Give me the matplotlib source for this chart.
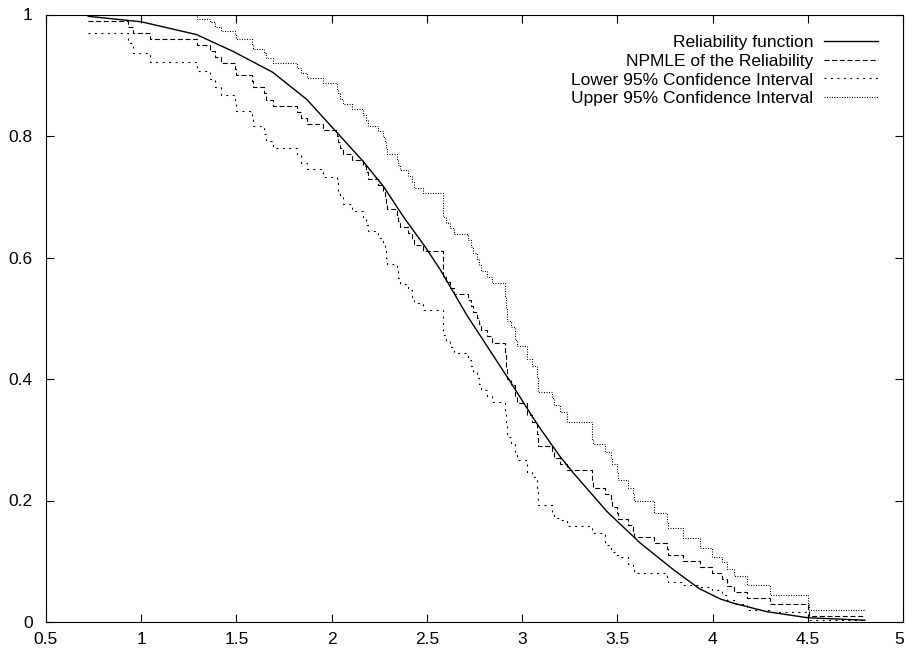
import matplotlib
matplotlib.use("Agg")
import matplotlib.pyplot as plt
import matplotlib.transforms as mtransforms
from matplotlib.ticker import FuncFormatter

# step start times (failure times) shared by the NPMLE and its confidence bounds
t = [0.722, 0.932, 0.955, 1.046, 1.291, 1.361, 1.39, 1.42, 1.493, 1.50,
     1.58, 1.585, 1.645, 1.655, 1.694, 1.816, 1.84, 1.87, 1.956, 2.027,
     2.035, 2.045, 2.06, 2.105, 2.167, 2.18, 2.19, 2.245, 2.27, 2.28,
     2.285, 2.289, 2.342, 2.35, 2.36, 2.403, 2.42, 2.43, 2.48, 2.587,
     2.60, 2.62, 2.64, 2.718, 2.73, 2.74, 2.765, 2.775, 2.785, 2.815,
     2.84, 2.91, 2.915, 2.92, 2.94, 2.963, 2.975, 3.024, 3.05, 3.077,
     3.085, 3.156, 3.17, 3.20, 3.235, 3.366, 3.37, 3.436, 3.465, 3.471,
     3.50, 3.506, 3.558, 3.58, 3.585, 3.69, 3.76, 3.768, 3.847, 3.934,
     3.996, 4.049, 4.075, 4.11, 4.18, 4.30, 4.50, 4.504, 4.80]

npmle = [0.99, 0.98, 0.97, 0.96, 0.95, 0.94, 0.93, 0.92, 0.91, 0.90,
         0.89, 0.88, 0.87, 0.86, 0.85, 0.84, 0.83, 0.82, 0.81, 0.80,
         0.79, 0.78, 0.77, 0.76, 0.75, 0.74, 0.73, 0.72, 0.71, 0.70,
         0.69, 0.68, 0.67, 0.66, 0.65, 0.64, 0.63, 0.62, 0.61, 0.57,
         0.56, 0.55, 0.54, 0.53, 0.52, 0.51, 0.50, 0.49, 0.48, 0.47,
         0.46, 0.44, 0.42, 0.40, 0.39, 0.37, 0.36, 0.34, 0.33, 0.31,
         0.29, 0.28, 0.27, 0.26, 0.25, 0.23, 0.22, 0.21, 0.20, 0.19,
         0.18, 0.17, 0.16, 0.15, 0.14, 0.13, 0.12, 0.11, 0.10, 0.09,
         0.08, 0.07, 0.06, 0.05, 0.04, 0.03, 0.02, 0.01, 0.01]

lower = [0.970, 0.953, 0.937, 0.922, 0.907, 0.894, 0.880, 0.867, 0.854, 0.841,
         0.829, 0.816, 0.804, 0.792, 0.780, 0.768, 0.756, 0.745, 0.733, 0.722,
         0.710, 0.699, 0.688, 0.676, 0.665, 0.654, 0.643, 0.632, 0.621, 0.610,
         0.599, 0.589, 0.578, 0.567, 0.557, 0.546, 0.535, 0.525, 0.514, 0.473,
         0.463, 0.453, 0.442, 0.432, 0.422, 0.412, 0.402, 0.392, 0.382, 0.372,
         0.362, 0.343, 0.323, 0.304, 0.294, 0.275, 0.266, 0.247, 0.238, 0.219,
         0.193, 0.179, 0.172, 0.168, 0.158, 0.150, 0.146, 0.127, 0.120, 0.115,
         0.110, 0.107, 0.095, 0.085, 0.080, 0.080, 0.070, 0.066, 0.061, 0.058,
         0.053, 0.044, 0.036, 0.030, 0.020, 0.017, 0.010, 0.003, 0.003]

upper = [1.0, 1.0, 1.0, 1.0, 0.993, 0.987, 0.980, 0.973, 0.966, 0.959,
         0.951, 0.944, 0.936, 0.928, 0.920, 0.912, 0.904, 0.895, 0.887, 0.878,
         0.870, 0.861, 0.853, 0.844, 0.835, 0.826, 0.817, 0.808, 0.799, 0.790,
         0.781, 0.771, 0.762, 0.753, 0.744, 0.734, 0.725, 0.715, 0.706, 0.667,
         0.657, 0.648, 0.638, 0.628, 0.618, 0.608, 0.598, 0.588, 0.578, 0.568,
         0.558, 0.537, 0.517, 0.496, 0.486, 0.465, 0.454, 0.433, 0.422, 0.401,
         0.379, 0.368, 0.357, 0.346, 0.330, 0.300, 0.293, 0.280, 0.270, 0.260,
         0.245, 0.234, 0.220, 0.210, 0.200, 0.179, 0.165, 0.154, 0.138, 0.121,
         0.107, 0.098, 0.088, 0.075, 0.061, 0.044, 0.030, 0.019, 0.019]

# reliability function
rel_x = [0.722, 0.784, 1.0, 1.29, 1.484, 1.69, 1.87, 2.027, 2.166, 2.272,
         2.377, 2.49, 2.57, 2.71, 2.937, 3.06, 3.094, 3.20, 3.27, 3.445,
         3.62, 3.795, 3.93, 4.04, 4.11, 4.285, 4.50, 4.80]
rel_y = [0.997, 0.995, 0.988, 0.967, 0.939, 0.905, 0.86, 0.806, 0.758, 0.717,
         0.667, 0.618, 0.58, 0.505, 0.396, 0.335, 0.319, 0.272, 0.245, 0.182,
         0.13, 0.086, 0.055, 0.038, 0.031, 0.017, 0.007, 0.003]

labels = ["Reliability function", "NPMLE of the Reliability",
          "Lower 95% Confidence Interval", "Upper 95% Confidence Interval"]

plt.rcParams['font.family'] = ['Liberation Sans', 'DejaVu Sans']

fig = plt.figure(figsize=(9.06, 6.52), dpi=100)
ax = fig.add_axes([46 / 906, 30 / 652, 857 / 906, 607.5 / 652])

lw = 0.8
ax.plot(rel_x, rel_y, color='black', lw=1.0, label=labels[0])
ax.step(t, npmle, where='post', color='black', lw=lw,
        linestyle=(0, (4.5, 2.4)), label=labels[1])
ax.step(t, lower, where='post', color='black', lw=lw,
        linestyle=(0, (1.8, 4.0)), label=labels[2])
ax.step(t, upper, where='post', color='black', lw=lw,
        linestyle=(0, (0.9, 1.35)), label=labels[3])

ax.set_xlim(0.5, 5)
ax.set_ylim(0, 1)
ax.set_xticks([0.5, 1, 1.5, 2, 2.5, 3, 3.5, 4, 4.5, 5])
ax.set_yticks([0, 0.2, 0.4, 0.6, 0.8, 1])
fmt = FuncFormatter(lambda v, p: f"{v:g}")
ax.xaxis.set_major_formatter(fmt)
ax.yaxis.set_major_formatter(fmt)
ax.tick_params(direction='in', length=6, width=0.8, top=True, right=True,
               labelsize=12.5)
ax.tick_params(axis='y', pad=9.5)
ax.tick_params(axis='x', pad=7)
for s in ax.spines.values():
    s.set_linewidth(0.8)

# nudge the last x label so it stays inside the figure
last = ax.get_xticklabels()[-1]
last.set_transform(last.get_transform() +
                   mtransforms.ScaledTranslation(-4 / 100, 0, fig.dpi_scale_trans))

ax.legend(loc='upper right', bbox_to_anchor=(0.9708, 0.966),
          frameon=False, markerfirst=False, fontsize=12.5,
          handlelength=3.1, handletextpad=0.63, labelspacing=0.2,
          borderaxespad=0, borderpad=0)

plt.savefig("out.png", dpi=100)
